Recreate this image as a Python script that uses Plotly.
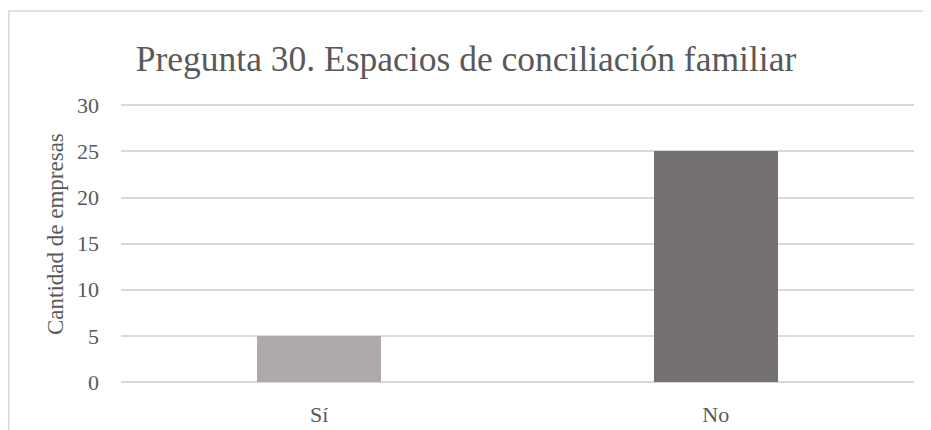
import plotly.graph_objects as go

categories = ["Sí", "No"]
values = [5, 25]
bar_colors = ["#AEAAAA", "#767171"]
title_text = "Pregunta 30. Espacios de conciliación familiar"
y_title = "Cantidad de empresas"
y_ticks = [0, 5, 10, 15, 20, 25, 30]
y_range = [0, 30.15]

font_family = "Liberation Serif"
text_color = "#595959"
grid_color = "#D9D9D9"

# page body has an 8px margin, so the figure is drawn 8px in from the top-left
OFF = 8
W, H = 931 - OFF, 430 - OFF
L, R, T, B = 121 - OFF, 17, 104 - OFF, 48
pw, ph = W - L - R, H - T - B

def px_x(x_real):
    return (x_real - OFF - L) / pw

def px_y(y_real):
    return 1 - (y_real - OFF - T) / ph

fig = go.Figure()
fig.add_trace(go.Bar(
    x=categories,
    y=values,
    marker=dict(color=bar_colors, line=dict(width=0)),
    width=0.313,
))

fig.update_layout(
    width=W, height=H,
    margin=dict(l=L, r=R, t=T, b=B, pad=0, autoexpand=False),
    paper_bgcolor="white",
    plot_bgcolor="white",
    font=dict(family=font_family, color=text_color, size=22),
    title=dict(text=title_text, xref="container", x=(466 - OFF) / W, xanchor="center",
               y=1 - (59 - OFF) / H, yanchor="middle",
               font=dict(size=35.5, color=text_color, family=font_family)),
    showlegend=False,
    bargap=0,
    xaxis=dict(showgrid=False, showline=False, zeroline=False, ticks="", automargin=False,
               ticklabelstandoff=17, tickfont=dict(size=22)),
    yaxis=dict(range=y_range, tickvals=y_ticks, showgrid=True, gridcolor=grid_color, gridwidth=1.5,
               zeroline=True, zerolinecolor=grid_color, zerolinewidth=1.5, automargin=False,
               showline=False, ticks="", ticklabelstandoff=21, tickfont=dict(size=22)),
    annotations=[
        dict(text=y_title, xref="paper", yref="paper", x=px_x(55), y=px_y(234),
             xanchor="center", yanchor="middle", textangle=-90, showarrow=False,
             font=dict(size=23, color=text_color, family=font_family)),
    ],
    shapes=[
        dict(type="line", xref="paper", yref="paper",
             x0=px_x(8.75), x1=px_x(8.75), y0=px_y(11), y1=px_y(440),
             line=dict(color=grid_color, width=1.5)),
        dict(type="line", xref="paper", yref="paper",
             x0=px_x(8), x1=px_x(940), y0=px_y(11), y1=px_y(11),
             line=dict(color=grid_color, width=1.5)),
    ],
)

fig.write_html("out.html")
